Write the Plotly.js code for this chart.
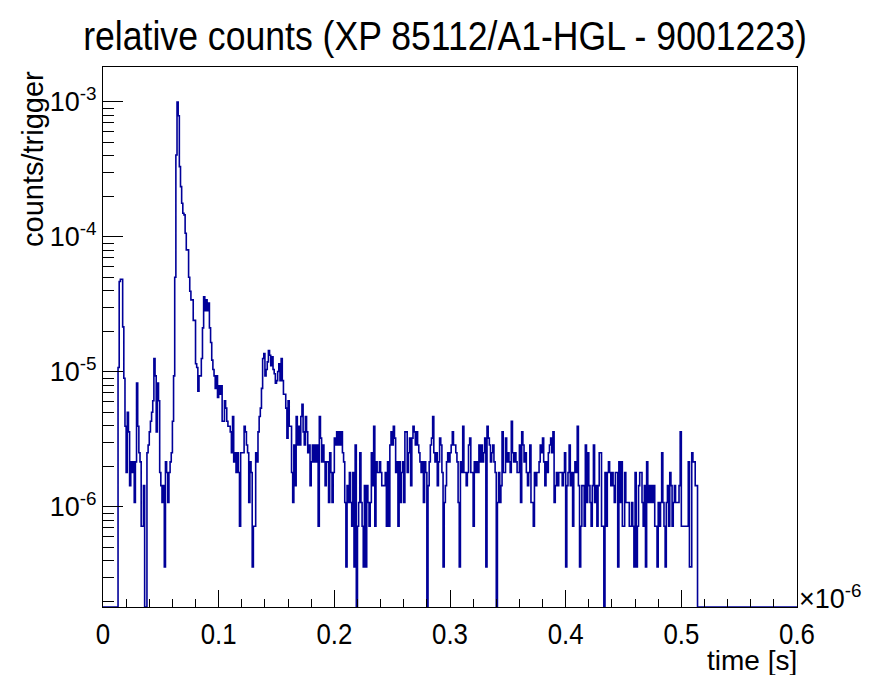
<!DOCTYPE html>
<html><head><meta charset="utf-8">
<script src="https://cdn.plot.ly/plotly-3.0.1.min.js"></script>
<style>html,body{margin:0;padding:0;background:#fff}</style>
</head><body><div id="chart" style="width:874px;height:675px"></div>
<script>
// ---- data: counts per 1 ns bin ----
const binWidth = 1e-9;          // seconds per bin
const nBins = 600;              // 0 .. 0.6 us
const triggers = 2.78e6;        // counts/trigger normalisation

const countsA = [0,0,0,0,0,0,0,0,0,0,0,0,0,
 30,130,135,135,60,25,11,5,14,10,
 4,6,5,6,3,6,23,11,7,6,
 2,2,4,0,0,7,8,10,12,14,
 17,35,26,10,23,17,5,4,3,4,
 1,6,5,3,5,6,7,12,26,140,
 1124,2780,2200,922,656,494,417,405,296,223,
 223,140,110,95,95,67,67,32,30,20,
 26,26,35,59,100,79,95,79,90,59,
 46,34,29,26,21,26,18];
const countsB = [22,19,22,12,12,17,15,12,11,11,
 10,7,13,6,7,5,7,5,2,7,
 7,7,11,10,8,7,3,6,5,1,
 2,2,7,6,10,13,15,21,35,38,
 26,29,33,40,37,31,36,29,27,23,
 24,28,32,24,35,24,19,19,15,9,
 17,11,11,5,3,8,4,13,8,11,
 8,13,16,10,8,13,10,7,8,4,
 6,8,6,8,6,8,2,13,9,6,
 8,6,4,6,6,3,7,5,3,5];
const countsC = [9,8,10,8,10,8,10,7,6,3,
 1,4,3,5,3,2,5,1,8,0,
 2,3,7,3,2,1,4,1,4,3,
 2,3,7,4,11,2,6,5,5,6,
 5,4,4,4,5,2,6,2,8,10,
 8,11,9,5,6,2,6,3,5,6,
 3,10,10,5,7,9,4,9,11,10,
 8,10,8,7,6,5,6,3,6,5,
 0,4,6,8,9,13,7,6,7,4,
 6,9,8,5,1,3,4,6,7,6];
const countsD = [7,8,10,8,8,7,6,3,1,6,
 5,11,5,5,4,5,8,9,5,5,
 2,6,5,6,5,8,6,8,6,7,
 9,1,11,9,8,6,7,8,6,5,
 0,3,5,3,4,10,5,5,9,6,
 7,6,5,12,7,6,7,6,5,5,
 8,3,10,8,6,7,5,4,5,8,
 3,3,2,5,4,5,5,6,8,7,
 9,6,4,6,5,7,8,9,7,10,
 3,4,5,4,5,5,5,4,5,7];
const countsE = [1,4,5,8,4,5,2,5,6,5,
 11,4,1,2,4,4,2,8,3,7,
 4,3,2,4,8,3,4,2,4,7,
 7,2,2,0,5,2,5,6,5,4,
 5,4,3,5,5,1,6,3,6,2,
 2,5,3,3,3,2,2,3,2,1,
 5,1,2,4,5,5,3,2,4,1,
 6,3,4,3,4,3,4,2,2,1,
 3,2,3,7,3,2,1,3,4,2,
 5,4,2,3,4,3,3,3,4,10,
 2,2,2,2,2,2,6,1,1,7,
 6,6,4,4];

const xTickVals = [0, 1e-7, 2e-7, 3e-7, 4e-7, 5e-7, 6e-7];
const xTickText = ['0', '0.1', '0.2', '0.3', '0.4', '0.5', '0.6'];
const yTickVals = [1e-6, 1e-5, 1e-4, 1e-3];
const yTickText = ['10<sup>-6</sup>', '10<sup>-5</sup>', '10<sup>-4</sup>', '10<sup>-3</sup>'];

// ---- build histogram steps ----
const counts = countsA.concat(countsB, countsC, countsD, countsE);
const yMinLog = -6.741, yMaxLog = -2.741;
const floorVal = Math.pow(10, yMinLog);
const xs = [], ys = [];
for (let i = 0; i < nBins; i++) {
  const c = i < counts.length ? counts[i] : 0;
  xs.push(i * binWidth);
  ys.push(c > 0 ? c / triggers : floorVal);
}
xs.push(nBins * binWidth); ys.push(ys[ys.length - 1]);

// minor tick positions (axis decoration)
const xMinor = [];
for (let k = 1; k < 30; k++) if (k % 5 !== 0) xMinor.push(k * 2e-8);
const yMinor = [];
for (let d = -7; d <= -3; d++) for (let m = 2; m <= 9; m++) {
  const v = m * Math.pow(10, d);
  if (Math.log10(v) > yMinLog && Math.log10(v) < yMaxLog) yMinor.push(v);
}

const fam = "'Liberation Sans', Arial, sans-serif";

const trace = {
  x: xs, y: ys, type: 'scatter', mode: 'lines',
  line: {shape: 'hv', color: '#000099', width: 1.6, simplify: false},
  hoverinfo: 'skip', showlegend: false
};

const layout = {
  width: 874, height: 675,
  margin: {l: 103, r: 77, t: 67, b: 68},
  paper_bgcolor: '#fff', plot_bgcolor: '#fff',
  showlegend: false,
  title: {text: 'relative counts (XP 85112/A1-HGL - 9001223)',
          font: {family: fam, size: 40, color: '#000'},
          xref: 'container', x: 445 / 874, xanchor: 'center',
          yref: 'container', y: 1 - 36 / 675, yanchor: 'middle'},
  xaxis: {
    range: [0, 6e-7], showgrid: false, zeroline: false,
    showline: true, mirror: true, linecolor: '#000', linewidth: 1,
    tickmode: 'array', tickvals: xTickVals, ticktext: xTickText,
    ticks: 'inside', ticklen: 17, tickwidth: 1, tickcolor: '#000',
    tickfont: {family: fam, size: 30, color: '#000'},
    minor: {tickmode: 'array', tickvals: xMinor, ticks: 'inside', ticklen: 8, tickwidth: 1, tickcolor: '#000', showgrid: false}
  },
  yaxis: {
    type: 'log', range: [yMinLog, yMaxLog], showgrid: false, zeroline: false,
    showline: true, mirror: true, linecolor: '#000', linewidth: 1,
    tickmode: 'array', tickvals: yTickVals, ticktext: yTickText,
    ticks: 'inside', ticklen: 20, tickwidth: 1, tickcolor: '#000',
    tickfont: {family: fam, size: 27, color: '#000'},
    minor: {tickmode: 'array', tickvals: yMinor, ticks: 'inside', ticklen: 11, tickwidth: 1, tickcolor: '#000', showgrid: false}
  },
  annotations: [
    {text: 'counts/trigger', textangle: -90, showarrow: false,
     xref: 'paper', yref: 'paper', x: (33 - 103) / 694, y: 1 - 2 / 540,
     xanchor: 'center', yanchor: 'top', font: {family: fam, size: 29, color: '#000'}},
    {text: 'time [s]', showarrow: false, xref: 'paper', yref: 'paper',
     x: 1 + 2 / 694, y: -(660 - 607) / 540, xanchor: 'right', yanchor: 'middle',
     font: {family: fam, size: 28, color: '#000'}},
    {text: '×10<sup>-6</sup>', showarrow: false, xref: 'paper', yref: 'paper',
     x: 1 + 0 / 694, y: (607 - 597) / 540, xanchor: 'left', yanchor: 'middle',
     font: {family: fam, size: 27, color: '#000'}}
  ]
};

// ROOT text is drawn narrower than Liberation Sans: compress plain texts horizontally
function squeeze(nodes, f) {
  nodes.forEach(t => {
    const w = t.getComputedTextLength();
    if (w > 0) {
      t.setAttribute('textLength', (w * f).toFixed(1));
      t.setAttribute('lengthAdjust', 'spacingAndGlyphs');
    }
  });
}

Plotly.newPlot('chart', [trace], layout, {displayModeBar: false, staticPlot: true}).then(gd => {
  squeeze(gd.querySelectorAll('.gtitle'), 0.89);
  squeeze(gd.querySelectorAll('.xtick text'), 0.86);
});
</script>
</body></html>
